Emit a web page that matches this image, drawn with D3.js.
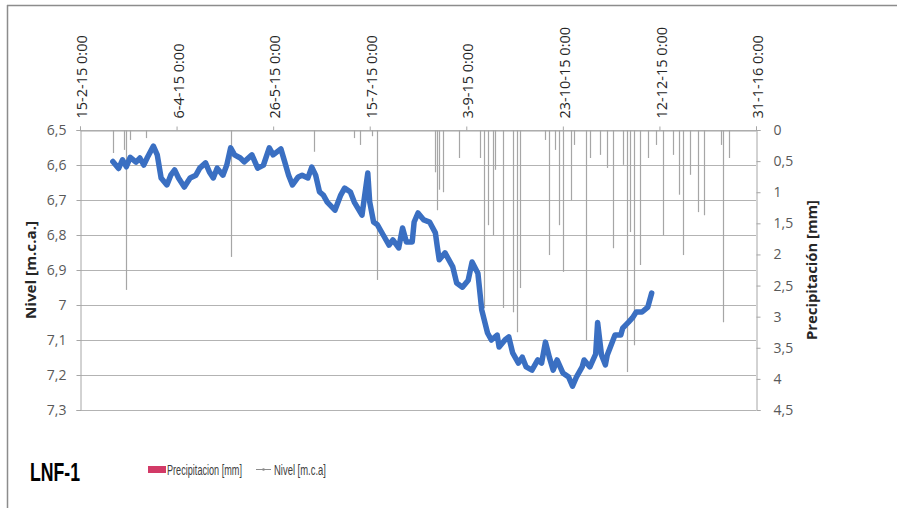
<!DOCTYPE html>
<html><head><meta charset="utf-8">
<script src="https://cdn.jsdelivr.net/npm/d3@7"></script>
<style>body{margin:0;background:#fff}svg{display:block}</style>
</head><body><svg id="c" width="897" height="508"></svg>
<script>
// ---- data ----
const xTickDates = ["2015-02-15","2015-04-06","2015-05-26","2015-07-15","2015-09-03","2015-10-23","2015-12-12","2016-01-31"];
const xTickLabels = ["15-2-15 0:00","6-4-15 0:00","26-5-15 0:00","15-7-15 0:00","3-9-15 0:00","23-10-15 0:00","12-12-15 0:00","31-1-16 0:00"];
const leftTicks = [6.5,6.6,6.7,6.8,6.9,7.0,7.1,7.2,7.3];
const leftTickLabels = ["6,5","6,6","6,7","6,8","6,9","7","7,1","7,2","7,3"];
const rightTicks = [0,0.5,1,1.5,2,2.5,3,3.5,4,4.5];
const rightTickLabels = ["0","0,5","1","1,5","2","2,5","3","3,5","4","4,5"];
const nivel = [
["2015-03-04",6.590],["2015-03-07",6.610],["2015-03-09",6.585],["2015-03-11",6.605],["2015-03-13",6.578],
["2015-03-16",6.592],["2015-03-18",6.580],["2015-03-20",6.600],["2015-03-22",6.577],["2015-03-25",6.546],
["2015-03-27",6.571],["2015-03-29",6.637],["2015-04-01",6.657],["2015-04-03",6.629],["2015-04-05",6.614],
["2015-04-07",6.637],["2015-04-10",6.663],["2015-04-13",6.637],["2015-04-16",6.629],["2015-04-18",6.609],
["2015-04-21",6.594],["2015-04-23",6.620],["2015-04-25",6.637],["2015-04-27",6.609],["2015-04-30",6.629],
["2015-05-02",6.600],["2015-05-04",6.551],["2015-05-06",6.571],["2015-05-09",6.580],["2015-05-11",6.591],
["2015-05-15",6.571],["2015-05-18",6.609],["2015-05-21",6.600],["2015-05-24",6.551],["2015-05-26",6.571],
["2015-05-30",6.554],["2015-06-01",6.591],["2015-06-03",6.629],["2015-06-05",6.657],["2015-06-08",6.634],
["2015-06-10",6.629],["2015-06-13",6.637],["2015-06-15",6.606],["2015-06-17",6.629],["2015-06-19",6.677],
["2015-06-21",6.686],["2015-06-23",6.706],["2015-06-27",6.729],["2015-06-30",6.686],["2015-07-02",6.666],
["2015-07-05",6.677],["2015-07-07",6.706],["2015-07-11",6.743],["2015-07-14",6.623],["2015-07-15",6.706],
["2015-07-17",6.763],["2015-07-19",6.771],["2015-07-22",6.800],["2015-07-25",6.829],["2015-07-27",6.814],
["2015-07-30",6.837],["2015-08-01",6.780],["2015-08-03",6.820],["2015-08-06",6.820],["2015-08-07",6.763],
["2015-08-09",6.737],["2015-08-12",6.757],["2015-08-15",6.763],["2015-08-18",6.794],["2015-08-19",6.834],
["2015-08-20",6.871],["2015-08-23",6.851],["2015-08-25",6.871],["2015-08-27",6.891],["2015-08-29",6.937],
["2015-09-01",6.949],["2015-09-04",6.929],["2015-09-06",6.877],["2015-09-09",6.909],["2015-09-11",7.014],
["2015-09-14",7.080],["2015-09-16",7.100],["2015-09-19",7.086],["2015-09-20",7.120],["2015-09-23",7.100],
["2015-09-25",7.091],["2015-09-27",7.137],["2015-09-30",7.166],["2015-10-02",7.149],["2015-10-04",7.177],
["2015-10-07",7.186],["2015-10-10",7.157],["2015-10-12",7.166],["2015-10-14",7.106],["2015-10-16",7.149],
["2015-10-18",7.186],["2015-10-20",7.157],["2015-10-23",7.194],["2015-10-26",7.206],["2015-10-28",7.232],
["2015-10-30",7.206],["2015-11-02",7.177],["2015-11-03",7.157],["2015-11-06",7.177],["2015-11-09",7.140],
["2015-11-10",7.050],["2015-11-12",7.143],["2015-11-14",7.171],["2015-11-15",7.143],["2015-11-17",7.114],
["2015-11-19",7.086],["2015-11-22",7.086],["2015-11-23",7.066],["2015-11-26",7.049],["2015-11-28",7.037],
["2015-11-30",7.020],["2015-12-03",7.020],["2015-12-06",7.006],["2015-12-08",6.966]
];
const precip = [
["2015-03-04",0.37],["2015-03-10",0.32],["2015-03-11",2.57],["2015-03-13",0.16],["2015-03-21",0.13],
["2015-05-04",2.04],["2015-06-16",0.35],["2015-07-07",0.13],["2015-07-10",0.24],["2015-07-16",0.10],
["2015-07-19",2.41],["2015-08-18",0.68],["2015-08-19",1.29],["2015-08-20",0.96],["2015-08-22",1.00],
["2015-08-30",0.45],["2015-09-10",0.45],["2015-09-12",2.86],["2015-09-14",1.53],["2015-09-17",1.69],
["2015-09-18",0.64],["2015-09-22",2.86],["2015-09-27",2.93],["2015-09-29",3.25],["2015-10-01",2.54],
["2015-10-14",0.16],["2015-10-16",2.01],["2015-10-19",0.32],["2015-10-21",1.53],["2015-10-23",2.28],
["2015-10-27",1.13],["2015-10-29",0.24],["2015-11-04",3.38],["2015-11-06",0.45],["2015-11-11",0.40],
["2015-11-15",0.61],["2015-11-18",1.90],["2015-11-23",0.56],["2015-11-25",3.89],["2015-11-27",1.64],
["2015-11-29",3.46],["2015-12-02",2.17],["2015-12-06",0.45],["2015-12-10",0.24],["2015-12-14",1.69],
["2015-12-19",0.40],["2015-12-22",1.04],["2015-12-24",2.01],["2015-12-28",0.72],["2016-01-01",1.32],
["2016-01-04",1.37],["2016-01-13",0.24],["2016-01-14",3.09],["2016-01-17",0.45]
];
const seriesNames = ["Precipitacion [mm]","Nivel [m.c.a]"];
const chartTitle = "LNF-1";

// ---- drawing ----
const parse = d3.timeParse("%Y-%m-%d");
const svg = d3.select("#c");
const L = 80, R = 756, T = 130, B = 410;
const x = d3.scaleTime().domain([parse("2015-02-15"), parse("2016-01-31")]).range([L, R]);
const yL = d3.scaleLinear().domain([6.5, 7.3]).range([T, B]);
const yR = d3.scaleLinear().domain([0, 4.5]).range([T, B]);
const font = "'Open Sans', 'DejaVu Sans', sans-serif";
const grey = "#595959";

// frame
svg.append("line").attr("x1",7).attr("x2",897).attr("y1",5.5).attr("y2",5.5).attr("stroke","#8c8c8c").attr("stroke-width",1.5);
svg.append("line").attr("x1",7.5).attr("x2",7.5).attr("y1",5).attr("y2",508).attr("stroke","#8c8c8c").attr("stroke-width",1.5);

// gridlines
svg.append("g").selectAll("line").data(leftTicks).join("line")
  .attr("x1",L).attr("x2",R).attr("y1",d=>Math.round(yL(d))+0.5).attr("y2",d=>Math.round(yL(d))+0.5)
  .attr("stroke","#b3b3b3").attr("stroke-width",1);

// left axis
const ga = svg.append("g").attr("transform",`translate(${L+0.5},0)`)
  .call(d3.axisLeft(yL).tickValues(leftTicks).tickFormat((d,i)=>leftTickLabels[i]).tickSize(4).tickPadding(10));
// right axis
const gr = svg.append("g").attr("transform",`translate(${R+0.5},0)`)
  .call(d3.axisRight(yR).tickValues(rightTicks).tickFormat((d,i)=>rightTickLabels[i]).tickSize(4).tickPadding(13));
// top axis
const gt = svg.append("g").attr("transform",`translate(0,${T+0.5})`)
  .call(d3.axisTop(x).tickValues(xTickDates.map(parse)).tickFormat((d,i)=>xTickLabels[i]).tickSize(4).tickPadding(8));
[ga,gr,gt].forEach(g=>{
  g.selectAll(".domain").attr("stroke","#a6a6a6");
  g.selectAll(".tick line").attr("stroke","#a6a6a6");
  g.selectAll("text").attr("font-family",font).attr("font-size",14).attr("fill",grey);
});
gt.selectAll("text").attr("transform","rotate(-90)").attr("text-anchor","start").attr("dy","0.35em")
  .attr("x",12).attr("y",1.5).attr("fill","#262626").attr("font-size",14.5);

// precipitation spikes
svg.append("g").selectAll("line").data(precip).join("line")
  .attr("x1",d=>Math.round(x(parse(d[0])))+0.5).attr("x2",d=>Math.round(x(parse(d[0])))+0.5)
  .attr("y1",yR(0)).attr("y2",d=>yR(d[1]))
  .attr("stroke","#a6a6a6").attr("stroke-width",1.2);

// level line
const line = d3.line().x(d=>x(parse(d[0]))).y(d=>yL(d[1])).curve(d3.curveLinear);
svg.append("path").datum(nivel).attr("d",line).attr("fill","none")
  .attr("stroke","#3a6fc2").attr("stroke-width",5.5).attr("stroke-linejoin","round").attr("stroke-linecap","round");

// axis titles
svg.append("text").attr("transform","translate(36,270) rotate(-90)").attr("text-anchor","middle")
  .attr("font-family",font).attr("font-weight","bold").attr("font-size",14).attr("fill","#262626")
  .attr("textLength",98).attr("lengthAdjust","spacingAndGlyphs").text("Nivel [m.c.a.]");
svg.append("text").attr("transform","translate(817,270) rotate(-90)").attr("text-anchor","middle")
  .attr("font-family",font).attr("font-weight","bold").attr("font-size",14.5).attr("fill","#262626")
  .attr("textLength",140).attr("lengthAdjust","spacingAndGlyphs").text("Precipitación [mm]");

// title
svg.append("text").attr("x",30).attr("y",481).attr("font-family","'Liberation Sans','Arial',sans-serif")
  .attr("font-weight","bold").attr("font-size",25).attr("fill","#000")
  .attr("textLength",50).attr("lengthAdjust","spacingAndGlyphs").text(chartTitle);

// legend (condensed text via horizontal scaling)
const lg = svg.append("g").attr("font-family","'Liberation Sans',sans-serif").attr("font-size",14.5).attr("fill","#404040");
lg.append("rect").attr("x",148).attr("y",466).attr("width",18).attr("height",7).attr("fill","#d23a67");
function condensed(str, x0, y0, w){
  const g = lg.append("g");
  const t = g.append("text").attr("x",0).attr("y",0).text(str);
  const len = t.node().getComputedTextLength();
  g.attr("transform",`translate(${x0},${y0}) scale(${w/len},1)`);
}
condensed(seriesNames[0],167,475,75);
lg.append("line").attr("x1",256).attr("x2",271).attr("y1",469.5).attr("y2",469.5).attr("stroke","#8c8c8c").attr("stroke-width",1);
lg.append("circle").attr("cx",263.5).attr("cy",469.5).attr("r",1.3).attr("fill","#8c8c8c");
condensed(seriesNames[1],274,475,52);
</script></body></html>
